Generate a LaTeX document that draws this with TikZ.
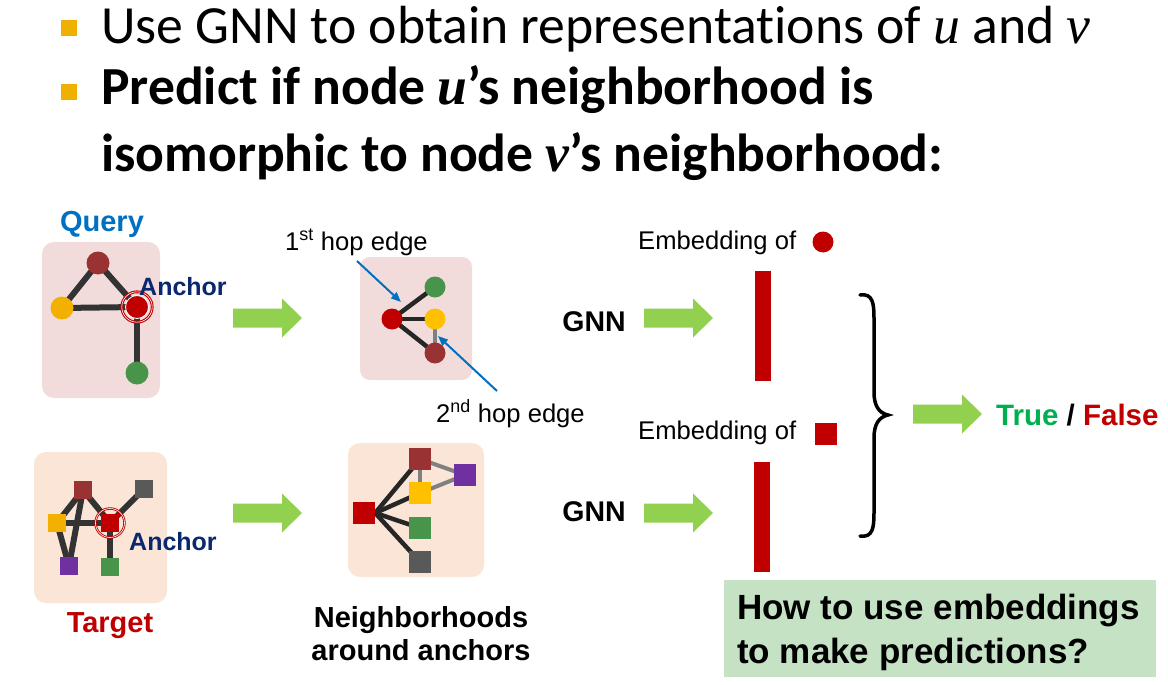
\documentclass[tikz,border=0pt]{standalone}
\usepackage{fontspec}
\setmainfont{Liberation Sans}
\newfontfamily\hdrfont[Ligatures=NoCommon]{Carlito}
\newfontfamily\varfont{Liberation Serif}
\usetikzlibrary{arrows.meta}
\definecolor{bulletc}{RGB}{240,176,0}
\definecolor{qpink}{RGB}{242,220,219}
\definecolor{tpeach}{RGB}{251,229,214}
\definecolor{gbox}{RGB}{197,226,197}
\definecolor{brn}{RGB}{153,51,51}
\definecolor{ylw}{RGB}{242,176,0}
\definecolor{ylw2}{RGB}{255,192,0}
\definecolor{ancred}{RGB}{192,0,0}
\definecolor{grn}{RGB}{72,148,74}
\definecolor{gry}{RGB}{89,89,89}
\definecolor{prp}{RGB}{112,48,160}
\definecolor{edgec}{RGB}{51,51,51}
\definecolor{edgek}{RGB}{38,38,38}
\definecolor{edgeg}{RGB}{128,128,128}
\definecolor{qblue}{RGB}{0,112,192}
\definecolor{navy}{RGB}{10,40,110}
\definecolor{agreen}{RGB}{146,208,80}
\definecolor{tgreen}{RGB}{0,176,80}
\newcommand{\vu}{{\varfont\itshape u}}
\newcommand{\vv}{{\varfont\itshape v}}
\pgfdeclarelayer{back}
\pgfdeclarelayer{mid}
\pgfsetlayers{back,mid,main}
\begin{document}
\begin{tikzpicture}[x=1pt,y=-1pt,
  cnode/.style={circle,inner sep=0pt,minimum size=23pt},
  mnode/.style={circle,inner sep=0pt,minimum size=21pt},
  snode/.style={rectangle,inner sep=0pt,minimum size=18pt},
  nsq/.style={rectangle,inner sep=0pt,minimum size=22pt},
  edge/.style={edgec,line width=6pt},
  kedge/.style={edgek,line width=4.5pt},
  gedge/.style={edgeg,line width=4pt},
  bluearr/.style={qblue,line width=2pt,-{Triangle[length=10pt,width=8pt]}},
  lbl/.style={inner sep=0pt,font=\fontsize{25.6}{30}\selectfont},
  blbl/.style={inner sep=0pt,font=\fontsize{29}{33}\selectfont\bfseries},
  hdr/.style={anchor=base west,inner sep=0pt,font=\hdrfont\fontsize{53.7}{60}\selectfont},
  hdrb/.style={anchor=base west,inner sep=0pt,font=\hdrfont\fontsize{53.6}{60}\selectfont\bfseries},
  garrow/.pic={\fill[agreen] (0,-9.5) -- (49,-9.5) -- (49,-19.5) -- (69,0) -- (49,19.5) -- (49,9.5) -- (0,9.5) -- cycle;}
]
\useasboundingbox (0,0) rectangle (1168,685);

% boxes
\begin{pgfonlayer}{back}
\fill[white] (0,0) rectangle (1168,685);
\fill[qpink,rounded corners=12pt] (42,242) rectangle (160,398);
\fill[qpink,rounded corners=10pt] (360,257) rectangle (472,380);
\fill[tpeach,rounded corners=12pt] (34,452) rectangle (167,603);
\fill[tpeach,rounded corners=12pt] (348,443) rectangle (484,577);
\fill[gbox] (724,580) rectangle (1156,677);
\end{pgfonlayer}

% header
\fill[bulletc] (61,20) rectangle (77,36);
\fill[bulletc] (61,84) rectangle (77,100);
\node[hdr] (h1) at (101,44) {Use GNN to obtain representations of \vu{} and \vv};
\node[hdrb] (h2) at (101,104) {Predict if node \vu’s neighborhood is};
\node[hdrb] (h3) at (101,171) {isomorphic to node \vv’s neighborhood:};

% query graph
\node[blbl,text=qblue] (qlab) at (102,224) {Query};
\node[cnode,fill=brn] (q1) at (98,263) {};
\node[cnode,fill=ylw] (q2) at (62,308) {};
\node[cnode,fill=ancred,draw=white,line width=0.8pt] (q3) at (137,307) {};
\node[cnode,fill=grn] (q4) at (137,373) {};
\draw[ancred,line width=2.8pt] (q3.center) circle (15.2pt);
\draw[white,line width=0.6pt] (q3.center) circle (15.2pt);
\begin{pgfonlayer}{mid}
\draw[edge] (q1.center) -- (q2.center);
\draw[edge] (q1.center) -- (q3.center);
\draw[edge] (q2.center) -- (q3.center);
\draw[edge] (q3.center) -- (q4.center);
\end{pgfonlayer}
\node[inner sep=0pt,anchor=west,text=navy,font=\fontsize{25}{30}\selectfont\bfseries] (qanc) at (139,287) {Anchor};

% target graph
\node[snode,fill=brn] (t1) at (83,490) {};
\node[snode,fill=gry] (t2) at (144,489) {};
\node[snode,fill=ylw] (t3) at (57,523) {};
\node[snode,fill=ancred] (t4) at (110,523) {};
\node[snode,fill=prp] (t5) at (69,566) {};
\node[snode,fill=grn] (t6) at (110,567) {};
\draw[ancred,line width=2.4pt] (t4.center) circle (14.5pt);
\draw[white,line width=0.6pt] (t4.center) circle (14.5pt);
\begin{pgfonlayer}{mid}
\draw[edge] (t1.center) -- (t3.center);
\draw[edge] (t1.center) -- (t5.center);
\draw[edge] (t1.center) -- (t4.center);
\draw[edge] (t3.center) -- (t4.center);
\draw[edge] (t3.center) -- (t5.center);
\draw[edge] (t4.center) -- (t2.center);
\draw[edge] (t4.center) -- (t6.center);
\end{pgfonlayer}
\node[inner sep=0pt,anchor=west,text=navy,font=\fontsize{25}{30}\selectfont\bfseries] (tanc) at (129,542) {Anchor};
\node[blbl,text=ancred] (tlab) at (110,626) {Target};

% arrows
\pic at (233,318) {garrow};
\pic at (233,513) {garrow};
\pic at (644,318) {garrow};
\pic at (644,513) {garrow};
\pic at (913,414) {garrow};

% middle query neighborhood
\node[mnode,fill=ancred] (m1) at (392,319) {};
\node[mnode,fill=grn] (m2) at (435,287) {};
\node[mnode,fill=ylw2] (m3) at (435,319) {};
\node[mnode,fill=brn] (m4) at (435,353) {};
\begin{pgfonlayer}{mid}
\draw[kedge] (m1.center) -- (m2.center);
\draw[kedge] (m1.center) -- (m3.center);
\draw[kedge] (m1.center) -- (m4.center);
\draw[gedge] (m3.center) -- (m4.center);
\end{pgfonlayer}
\node[lbl,anchor=base west] (hop1) at (285,250) {1\textsuperscript{st} hop edge};
\node[lbl,anchor=base west] (hop2) at (436,422) {2\textsuperscript{nd} hop edge};
\coordinate (a1s) at (357,261);
\coordinate (a1e) at (401,302);
\coordinate (a2s) at (497,391);
\coordinate (a2e) at (438,336);
\draw[bluearr] (a1s) -- (a1e);
\draw[bluearr] (a2s) -- (a2e);

% neighborhood of target
\node[nsq,fill=ancred] (n1) at (364,513) {};
\node[nsq,fill=brn] (n2) at (420,459) {};
\node[nsq,fill=ylw2] (n3) at (420,493) {};
\node[nsq,fill=grn] (n4) at (420,528) {};
\node[nsq,fill=gry] (n5) at (420,562) {};
\node[nsq,fill=prp] (n6) at (465,475) {};
\begin{pgfonlayer}{mid}
\draw[gedge] (n2.center) -- (n3.center);
\draw[gedge] (n2.center) -- (n6.center);
\draw[gedge] (n3.center) -- (n6.center);
\draw[kedge] (n1.east) -- (n2.center);
\draw[kedge] (n1.east) -- (n3.center);
\draw[kedge] (n1.east) -- (n4.center);
\draw[kedge] (n1.east) -- (n5.center);
\end{pgfonlayer}
\node[blbl,align=center] (nlab) at (421,634) {Neighborhoods\\around anchors};

% GNN and embeddings
\node[inner sep=0pt,font=\fontsize{28.5}{32}\selectfont\bfseries] (g1) at (594,322) {GNN};
\node[inner sep=0pt,font=\fontsize{28.5}{32}\selectfont\bfseries] (g2) at (594,512) {GNN};
\node[lbl,anchor=west] (e1) at (638,243) {Embedding of};
\node[circle,inner sep=0pt,minimum size=21pt,fill=ancred] (e1c) at (823,242) {};
\node[lbl,anchor=west] (e2) at (638,433) {Embedding of};
\node[nsq,fill=ancred] (e2s) at (826,434) {};
\fill[ancred] (755,271) rectangle (771,381);
\fill[ancred] (754,462) rectangle (770,572);

% brace
\draw[black,line width=3.5pt,line cap=round]
  (860,295) .. controls (873,293) and (874,304) .. (874,318)
  -- (874,392) .. controls (874,406) and (879,413) .. (888,415)
  .. controls (879,417) and (874,424) .. (874,438)
  -- (874,513) .. controls (874,527) and (873,538) .. (860,536);

\node[inner sep=0pt,anchor=west,font=\fontsize{29.5}{33}\selectfont\bfseries] (tf) at (996,415) {\textcolor{tgreen}{True} / \textcolor{ancred}{False}};

\node[inner sep=0pt,anchor=west,align=left,font=\fontsize{35}{44}\selectfont\bfseries] (q) at (737,632) {How to use embeddings\\to make predictions?};
\end{tikzpicture}
\end{document}
